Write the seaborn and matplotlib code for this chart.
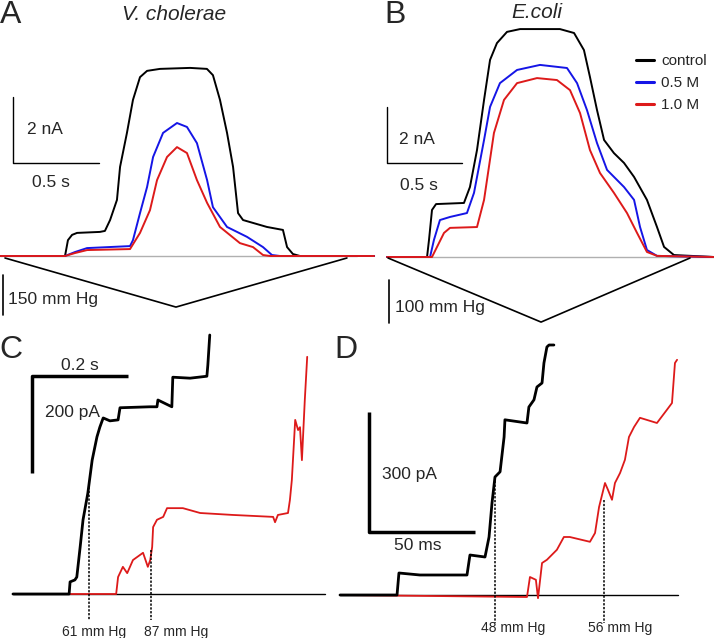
import numpy as np
import pandas as pd
import matplotlib
matplotlib.use("Agg")
import matplotlib.pyplot as plt
import seaborn as sns
from matplotlib.lines import Line2D

# ---------------- data ----------------
# Panel A: V. cholerae, time in ms, current in nA, pressure in mmHg
a_ctrl_t = [0, 378, 395, 419, 448, 581, 610, 640, 680, 698, 738, 773, 814, 855, 930, 1105, 1203, 1238, 1279, 1320, 1355, 1384, 1413, 1552, 1645, 1669, 1703, 1744, 2175]
a_ctrl_i = [0, 0, 0.48, 0.64, 0.70, 0.73, 0.76, 1.09, 1.70, 2.70, 3.73, 4.73, 5.42, 5.61, 5.67, 5.70, 5.67, 5.48, 4.73, 3.73, 2.70, 1.30, 1.09, 0.88, 0.79, 0.27, 0.06, 0, 0]
a_05_t = [0, 378, 436, 506, 756, 773, 814, 855, 890, 948, 1029, 1087, 1145, 1204, 1238, 1320, 1436, 1529, 1581, 1628, 2175]
a_05_i = [0, 0, 0.12, 0.24, 0.30, 0.48, 1.30, 2.09, 3.00, 3.73, 4.03, 3.91, 3.42, 2.30, 1.48, 0.88, 0.58, 0.27, 0.03, 0, 0]
a_10_t = [0, 378, 436, 506, 756, 814, 872, 913, 971, 1029, 1087, 1145, 1204, 1279, 1395, 1471, 1529, 1570, 2175]
a_10_i = [0, 0, 0.09, 0.18, 0.21, 0.70, 1.39, 2.30, 3.00, 3.30, 3.12, 2.30, 1.61, 0.88, 0.39, 0.27, 0.03, 0, 0]
a_press_t = [29, 1023, 2017]
a_press_p = [0, -184, 0]

# Panel B: E. coli
b_ctrl_t = [200, 467, 480, 500, 527, 713, 753, 800, 847, 887, 933, 1000, 1087, 1353, 1447, 1513, 1553, 1600, 1647, 1713, 1780, 1847, 1933, 2000, 2047, 2113, 2380]
b_ctrl_i = [0, 0, 0.61, 1.68, 1.89, 1.93, 2.50, 3.82, 5.61, 7.04, 7.64, 8.04, 8.14, 8.14, 8.00, 7.39, 6.43, 5.25, 4.18, 3.71, 3.36, 2.86, 2.04, 1.07, 0.36, 0.07, 0]
b_05_t = [200, 487, 513, 553, 620, 733, 780, 847, 887, 953, 1067, 1220, 1400, 1467, 1533, 1600, 1667, 1780, 1847, 1887, 1933, 2000, 2380]
b_05_i = [0, 0, 0.61, 1.32, 1.43, 1.57, 2.29, 4.18, 5.36, 6.21, 6.68, 6.86, 6.75, 6.21, 5.25, 4.07, 3.11, 2.50, 2.04, 1.07, 0.25, 0.04, 0]
b_10_t = [200, 500, 540, 580, 620, 800, 847, 913, 980, 1067, 1200, 1333, 1420, 1487, 1553, 1620, 1713, 1800, 1867, 1933, 2000, 2380]
b_10_i = [0, 0, 0.43, 0.86, 1.04, 1.07, 2.04, 4.43, 5.61, 6.21, 6.39, 6.32, 5.96, 5.14, 3.82, 3.00, 2.29, 1.57, 0.86, 0.18, 0.04, 0]
b_press_t = [207, 1227, 2220]
b_press_p = [0, -149, 0]

# Panel C: time in ms, current in pA
c_blk_t = [27, 144, 146, 156, 160, 167, 173, 183, 192, 202, 208, 215, 229, 246, 250, 312, 327, 329, 358, 360, 396, 431, 433, 437]
c_blk_i = [0, 0, 25, 29, 35, 97, 153, 208, 276, 324, 344, 363, 357, 359, 384, 386, 386, 400, 386, 447, 445, 449, 472, 534]
c_red_t = [27, 242, 246, 256, 265, 277, 298, 308, 313, 317, 319, 327, 340, 348, 381, 417, 485, 569, 573, 579, 600, 604, 608, 615, 621, 625, 629, 635, 640]
c_red_i = [0, 0, 35, 56, 43, 70, 85, 56, 70, 97, 138, 153, 159, 177, 177, 167, 163, 159, 148, 163, 167, 194, 235, 359, 338, 344, 276, 400, 489]
c_mark_t = [185, 315]
c_mark_top = [221, 91]
c_mark_labels = ["61 mm Hg", "87 mm Hg"]

# Panel D
d_blk_t = [0, 26.9, 27.8, 37.7, 59.9, 61.3, 68.4, 70.3, 71.7, 73.1, 75.5, 77.4, 77.8, 88.2, 89.1, 91.5, 92.9, 95.3, 96.2, 97.6, 98.6, 100.9]
d_blk_i = [0, 0, 55, 50, 50, 100, 95, 145, 230, 295, 308, 395, 438, 430, 470, 488, 520, 530, 580, 620, 625, 625]
d_red_t = [0, 88.2, 89.6, 92.4, 93.4, 95.3, 97.6, 102.3, 105.6, 108.4, 117.9, 120.3, 122.2, 125.0, 126.4, 128.3, 129.7, 132.1, 134.4, 136.3, 138.7, 141.5, 149.5, 154.2, 156.6, 158.0, 159.0]
d_red_i = [0, -5, 45, 38, -8, 80, 88, 113, 145, 145, 133, 155, 220, 280, 263, 238, 280, 305, 338, 395, 420, 443, 430, 463, 480, 580, 588]
d_mark_t = [73.1, 124.5]
d_mark_top = [295, 238]
d_mark_labels = ["48 mm Hg", "56 mm Hg"]

legend_labels = ["control", "0.5 M", "1.0 M"]
colors = ["#000000", "#1515e6", "#dd1a1a"]

# ---------------- figure ----------------
sns.set_theme(style="white")
plt.rcParams["font.family"] = ["Liberation Sans", "DejaVu Sans"]

W, H = 714, 638
fig = plt.figure(figsize=(W / 100, H / 100), dpi=100)


def panel_axes(name, x0, sx, y0, sy):
    """Axes covering the whole figure; x0,y0 = pixel of data origin, sx,sy = pixels per unit."""
    ax = fig.add_axes([0, 0, 1, 1], label=name)
    ax.set_xlim(-x0 / sx, (W - x0) / sx)
    ax.set_ylim((y0 - H) / sy, y0 / sy)
    ax.set_axis_off()
    ax.patch.set_alpha(0)
    return ax


def trace(ax, t, v, color, lw=1.4, **kw):
    df = pd.DataFrame({"t": t, "v": v})
    sns.lineplot(data=df, x="t", y="v", ax=ax, color=color, linewidth=lw,
                 sort=False, estimator=None, legend=False, **kw)


# ---- Panel A ----
axA = panel_axes("A", 0, 172 / 1000, 256, 33)
axA.plot([0, 2075], [0, 0], color="#b0b0b0", lw=1.0)
trace(axA, a_ctrl_t, a_ctrl_i, colors[0])
trace(axA, a_05_t, a_05_i, colors[1])
trace(axA, a_10_t, a_10_i, colors[2])
axA.plot([76, 76, 576], [4.82, 2.82, 2.82], color="black", lw=1.0)
axA.text(157, 3.82, "2 nA", fontsize=12.5, va="center", ha="left")
axA.text(297, 2.24, "0.5 s", fontsize=12.5, va="center", ha="center")

axAp = panel_axes("Ap", 0, 172 / 1000, 258, 40 / 150)
trace(axAp, a_press_t, a_press_p, "black", lw=1.2)
axAp.plot([17, 17], [-64, -214], color="black", lw=1.2)
axAp.text(47, -157, "150 mm Hg", fontsize=12.5, va="center", ha="left")

# ---- Panel B ----
axB = panel_axes("B", 357, 150 / 1000, 257, 28)
axB.plot([200, 2380], [0, 0], color="#b0b0b0", lw=1.0)
trace(axB, b_ctrl_t, b_ctrl_i, colors[0])
trace(axB, b_05_t, b_05_i, colors[1])
trace(axB, b_10_t, b_10_i, colors[2])
axB.plot([200, 200, 700], [5.36, 3.36, 3.36], color="black", lw=1.0)
axB.text(280, 4.18, "2 nA", fontsize=12.5, va="center", ha="left")
axB.text(413, 2.57, "0.5 s", fontsize=12.5, va="center", ha="center")

axBp = panel_axes("Bp", 357, 150 / 1000, 258, 43 / 100)
trace(axBp, b_press_t, b_press_p, "black", lw=1.2)
axBp.plot([213, 213], [-51, -151], color="black", lw=1.2)
axBp.text(253, -114, "100 mm Hg", fontsize=12.5, va="center", ha="left")

handles = [Line2D([], [], color=c, lw=2.2) for c in colors]
fig.legend(handles, legend_labels, loc="upper left", bbox_to_anchor=(636 / W, 1 - 54 / H),
           frameon=False, fontsize=11, handlelength=1.2, handletextpad=0.45,
           labelspacing=0.52, borderaxespad=0, borderpad=0)

# ---- Panel C ----
axC = panel_axes("C", 0, 480 / 1000, 594, 0.485)
axC.plot([27, 677], [0, 0], color="black", lw=1.0)
trace(axC, c_red_t, c_red_i, colors[2], lw=1.3)
trace(axC, c_blk_t, c_blk_i, colors[0], lw=2.0)
for t, top, lab in zip(c_mark_t, c_mark_top, c_mark_labels):
    axC.plot([t, t], [top, -54], color="black", lw=1.1, linestyle=(0, (1.5, 1)))
axC.text(c_mark_t[0] + 11, -78, c_mark_labels[0], fontsize=10, ha="center", va="center")
axC.text(c_mark_t[1] + 52, -78, c_mark_labels[1], fontsize=10, ha="center", va="center")
axC.plot([67, 67, 267], [249, 449, 449], color="black", lw=2.5, solid_capstyle="butt")
axC.text(167, 472, "0.2 s", fontsize=12.5, ha="center", va="center")
axC.text(94, 375, "200 pA", fontsize=12.5, ha="left", va="center")

# ---- Panel D ----
axD = panel_axes("D", 340, 106 / 50, 595, 0.4)
axD.plot([0, 159.4], [0, 0], color="black", lw=1.0)
trace(axD, d_red_t, d_red_i, colors[2], lw=1.3)
trace(axD, d_blk_t, d_blk_i, colors[0], lw=2.0)
for t, top in zip(d_mark_t, d_mark_top):
    axD.plot([t, t], [top, -70], color="black", lw=1.1, linestyle=(0, (1.5, 1)))
axD.text(d_mark_t[0] + 8.5, -82, d_mark_labels[0], fontsize=10, ha="center", va="center")
axD.text(d_mark_t[1] + 7.5, -82, d_mark_labels[1], fontsize=10, ha="center", va="center")
axD.plot([13.7, 13.7, 63.7], [457.5, 157.5, 157.5], color="black", lw=2.5, solid_capstyle="butt")
axD.text(19.8, 302.5, "300 pA", fontsize=12.5, ha="left", va="center")
axD.text(36.8, 122.5, "50 ms", fontsize=12.5, ha="center", va="center")

# ---- panel letters and titles ----
def ftext(x, y, s, **kw):
    fig.text(x / W, 1 - y / H, s, **kw)

ftext(11, 15, "A", fontsize=23, ha="center", va="center")
ftext(395, 15, "B", fontsize=23, ha="center", va="center")
ftext(11, 350, "C", fontsize=23, ha="center", va="center")
ftext(346, 350, "D", fontsize=23, ha="center", va="center")
ftext(174, 14, "V. cholerae", fontsize=15, style="italic", ha="center", va="center")
ftext(537, 13, "E.coli", fontsize=15, style="italic", ha="center", va="center")

fig.savefig("out.png", dpi=100)
